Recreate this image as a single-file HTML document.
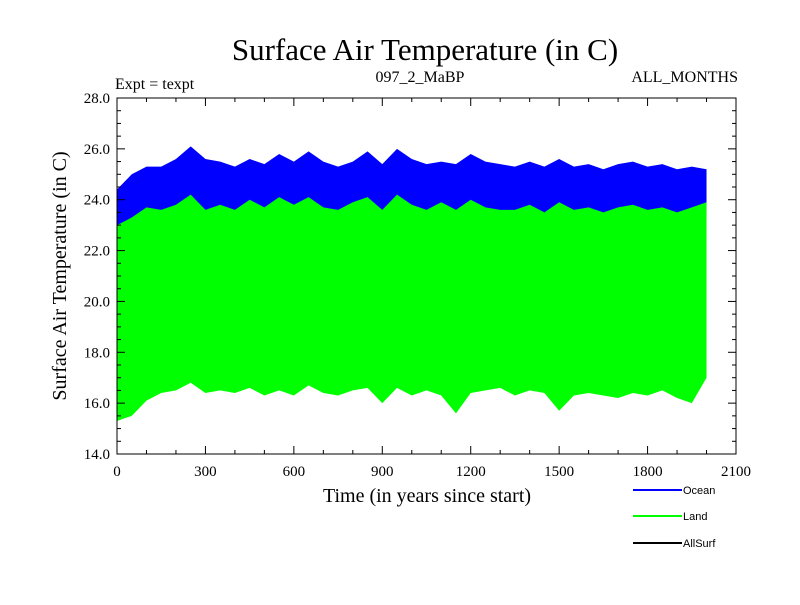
<!DOCTYPE html>
<html><head><meta charset="utf-8"><style>
body{margin:0;background:#fff}
svg text{font-family:"Liberation Serif",serif;fill:#000}
.lg{font-family:"Liberation Sans",sans-serif;font-size:11px}
</style></head><body>
<svg id="c" width="800" height="600" xmlns="http://www.w3.org/2000/svg">
<text x="425" y="60" font-size="31" text-anchor="middle">Surface Air Temperature (in C)</text>
<text x="115" y="89" font-size="16">Expt = texpt</text>
<text x="420" y="82" font-size="16" text-anchor="middle">097_2_MaBP</text>
<text x="738" y="82" font-size="16" text-anchor="end">ALL_MONTHS</text>
<text transform="translate(66,276) rotate(-90)" font-size="20" text-anchor="middle">Surface Air Temperature (in C)</text>
<text x="427" y="502" font-size="20" text-anchor="middle">Time (in years since start)</text>
<g id="marks"></g>
<g id="axes"></g>
<g>
<line x1="633" y1="490" x2="682" y2="490" stroke="#0000ff" stroke-width="2"/>
<text class="lg" x="683" y="494">Ocean</text>
<line x1="633" y1="516" x2="682" y2="516" stroke="#00ff00" stroke-width="2"/>
<text class="lg" x="683" y="520">Land</text>
<line x1="633" y1="543" x2="682" y2="543" stroke="#000" stroke-width="2"/>
<text class="lg" x="683" y="547">AllSurf</text>
</g>
</svg>
<script>
const years=[0,50,100,150,200,250,300,350,400,450,500,550,600,650,700,750,800,850,900,950,1000,1050,1100,1150,1200,1250,1300,1350,1400,1450,1500,1550,1600,1650,1700,1750,1800,1850,1900,1950,2000];
const oceanMax=[24.4,25.0,25.3,25.3,25.6,26.1,25.6,25.5,25.3,25.6,25.4,25.8,25.5,25.9,25.5,25.3,25.5,25.9,25.4,26.0,25.6,25.4,25.5,25.4,25.8,25.5,25.4,25.3,25.5,25.3,25.6,25.3,25.4,25.2,25.4,25.5,25.3,25.4,25.2,25.3,25.2];
const oceanMin=[22.9,23.2,23.4,23.4,23.5,23.6,23.4,23.4,23.4,23.5,23.4,23.5,23.4,23.5,23.4,23.4,23.4,23.5,23.4,23.5,23.4,23.4,23.4,23.4,23.5,23.4,23.4,23.4,23.4,23.4,23.4,23.4,23.4,23.3,23.4,23.4,23.4,23.4,23.3,23.4,23.4];
const landMax=[23.0,23.3,23.7,23.6,23.8,24.2,23.6,23.8,23.6,24.0,23.7,24.1,23.8,24.1,23.7,23.6,23.9,24.1,23.6,24.2,23.8,23.6,23.9,23.6,24.0,23.7,23.6,23.6,23.8,23.5,23.9,23.6,23.7,23.5,23.7,23.8,23.6,23.7,23.5,23.7,23.9];
const landMin=[15.3,15.5,16.1,16.4,16.5,16.8,16.4,16.5,16.4,16.6,16.3,16.5,16.3,16.7,16.4,16.3,16.5,16.6,16.0,16.6,16.3,16.5,16.3,15.6,16.4,16.5,16.6,16.3,16.5,16.4,15.7,16.3,16.4,16.3,16.2,16.4,16.3,16.5,16.2,16.0,17.0];
const xTicks=[0,300,600,900,1200,1500,1800,2100];
const yTicks=[14,16,18,20,22,24,26,28];
const L=117,R=736,T=98,B=454;
const xs=v=>L+(v/2100)*(R-L), ys=v=>B-(v-14)/14*(B-T);
const NS="http://www.w3.org/2000/svg";
const mk=(t,a,p)=>{const e=document.createElementNS(NS,t);for(const k in a)e.setAttribute(k,a[k]);p.appendChild(e);return e;};
const marks=document.getElementById('marks'),axes=document.getElementById('axes');
function band(top,bot,col){let d='';years.forEach((y,i)=>d+=(i?'L':'M')+xs(y)+','+ys(top[i]));for(let i=years.length-1;i>=0;i--)d+='L'+xs(years[i])+','+ys(bot[i]);return mk('path',{d:d+'Z',fill:col},marks);}
const o=band(oceanMax,oceanMin,'#0000ff');


const l=band(landMax,landMin,'#00ff00');


const frame=mk('rect',{x:L,y:T,width:R-L,height:B-T,fill:'none',stroke:'#000','stroke-width':1},axes);


for(let v=0;v<=2100;v+=100){const x=xs(v),len=v%300?4:8;mk('line',{x1:x,y1:B,x2:x,y2:B-len,stroke:'#000'},axes);mk('line',{x1:x,y1:T,x2:x,y2:T+len,stroke:'#000'},axes);}
for(let v=14;v<=28;v+=0.5){const y=ys(v),len=v%2?4:8;mk('line',{x1:L,y1:y,x2:L+len,y2:y,stroke:'#000'},axes);mk('line',{x1:R,y1:y,x2:R-len,y2:y,stroke:'#000'},axes);}
xTicks.forEach(v=>{const t=mk('text',{x:xs(v),y:B+22,'font-size':15,'text-anchor':'middle'},axes);t.textContent=v;

});
yTicks.forEach(v=>{const t=mk('text',{x:L-7,y:ys(v)+5,'font-size':15,'text-anchor':'end'},axes);t.textContent=v.toFixed(1);

});
</script>
</body></html>
